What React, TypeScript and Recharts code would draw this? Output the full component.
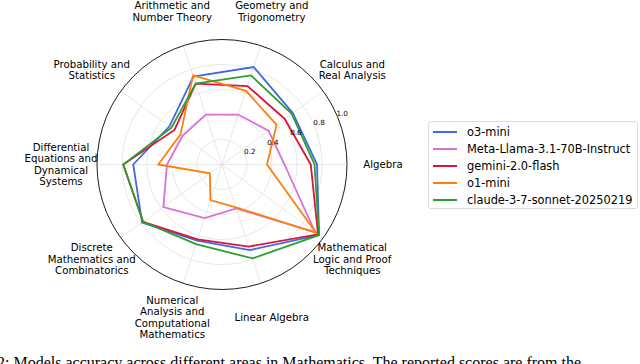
import React from "react";
import { RadarChart, Radar, PolarGrid, PolarAngleAxis, PolarRadiusAxis } from "recharts";

// chart geometry
const CX = 222;
const CY = 164.5;
const R = 125;

const categories = [
  "Algebra",
  "Calculus and Real Analysis",
  "Geometry and Trigonometry",
  "Arithmetic and Number Theory",
  "Probability and Statistics",
  "Differential Equations and Dynamical Systems",
  "Discrete Mathematics and Combinatorics",
  "Numerical Analysis and Computational Mathematics",
  "Linear Algebra",
  "Mathematical Logic and Proof Techniques",
];

// wrapped tick labels, same order as categories
const tickLabels = [
  ["Algebra"],
  ["Calculus and", "Real Analysis"],
  ["Geometry and", "Trigonometry"],
  ["Arithmetic and", "Number Theory"],
  ["Probability and", "Statistics"],
  ["Differential", "Equations and", "Dynamical", "Systems"],
  ["Discrete", "Mathematics and", "Combinatorics"],
  ["Numerical", "Analysis and", "Computational", "Mathematics"],
  ["Linear Algebra"],
  ["Mathematical", "Logic and Proof", "Techniques"],
];

const o3Mini = [0.76, 0.7, 0.82, 0.74, 0.52, 0.71, 0.79, 0.64, 0.72, 0.96];
const llama = [0.5, 0.46, 0.42, 0.42, 0.39, 0.44, 0.58, 0.45, 0.37, 0.92];
const gemini = [0.71, 0.62, 0.66, 0.68, 0.47, 0.79, 0.78, 0.63, 0.69, 0.95];
const o1Mini = [0.36, 0.54, 0.62, 0.75, 0.41, 0.51, 0.12, 0.3, 0.36, 0.93];
const claude = [0.74, 0.69, 0.75, 0.68, 0.5, 0.79, 0.78, 0.67, 0.79, 0.96];

const radiusTicks = [0.2, 0.4, 0.6, 0.8, 1.0];

const series = [
  { name: "o3-mini", values: o3Mini, color: "#4169e1" },
  { name: "Meta-Llama-3.1-70B-Instruct", values: llama, color: "#da70d6" },
  { name: "gemini-2.0-flash", values: gemini, color: "#dc143c" },
  { name: "o1-mini", values: o1Mini, color: "#ff7f0e" },
  { name: "claude-3-7-sonnet-20250219", values: claude, color: "#2ca02c" },
];

const data = categories.map((c, i) => {
  const row: Record<string, any> = { category: c };
  series.forEach((s) => (row[s.name] = s.values[i]));
  return row;
});

const FONT = "'DejaVu Sans', sans-serif";

// labels sit on a ring outside the plot, one per category, counter-clockwise from 3 o'clock
function AngleTick(props: any) {
  const { payload } = props;
  const idx = categories.indexOf(payload.value);
  const lines = tickLabels[idx] || [payload.value];
  const a = (idx * 36 * Math.PI) / 180;
  const lx = CX + 161 * Math.cos(a);
  const ly = CY - 161 * Math.sin(a);
  const lh = 11.4;
  const y0 = ly - ((lines.length - 1) * lh) / 2;
  return (
    <text x={lx} y={y0} textAnchor="middle" fontSize={10.2} fill="#000" fontFamily={FONT}>
      {lines.map((l, i) => (
        <tspan key={i} x={lx} y={y0 + i * lh} dominantBaseline="central">
          {l}
        </tspan>
      ))}
    </text>
  );
}

function RadiusTick(props: any) {
  const { x, y, payload } = props;
  return (
    <text
      x={x + 4.7}
      y={y - 3.3}
      textAnchor="middle"
      dominantBaseline="central"
      fontSize={7.2}
      fill="#000"
      fontFamily={FONT}
    >
      {Number(payload.value).toFixed(1)}
    </text>
  );
}

export default function App() {
  return (
    <div
      style={{
        position: "absolute",
        left: 0,
        top: 0,
        width: 640,
        height: 364,
        overflow: "hidden",
        background: "#fff",
        fontFamily: FONT,
      }}
    >
      <RadarChart
        width={640}
        height={364}
        data={data}
        cx={CX}
        cy={CY}
        outerRadius={R}
        startAngle={-36}
        endAngle={324}
        margin={{ top: 0, right: 0, bottom: 0, left: 0 }}
      >
        <PolarGrid gridType="circle" stroke="#e2e2e2" strokeWidth={0.8} />
        <PolarGrid gridType="circle" polarRadius={[R]} radialLines={false} stroke="#222" strokeWidth={1} />
        <PolarAngleAxis dataKey="category" tick={AngleTick} tickLine={false} axisLine={false} />
        <PolarRadiusAxis
          angle={22.5}
          domain={[0, 1]}
          ticks={radiusTicks as any}
          tick={RadiusTick}
          axisLine={false}
          tickLine={false}
        />
        {series.map((s) => (
          <Radar
            key={s.name}
            name={s.name}
            dataKey={s.name}
            stroke={s.color}
            strokeWidth={1.8}
            fill="none"
            fillOpacity={0}
            dot={false}
            isAnimationActive={false}
          />
        ))}
      </RadarChart>

      <div
        style={{
          position: "absolute",
          left: 428,
          top: 121,
          width: 210,
          height: 88,
          border: "1px solid #dcdcdc",
          borderRadius: 3,
          boxSizing: "border-box",
          paddingTop: 2,
        }}
      >
        {series.map((s) => (
          <div key={s.name} style={{ display: "flex", alignItems: "center", height: 16.9 }}>
            <div style={{ width: 24, height: 2, background: s.color, marginLeft: 4, marginRight: 10 }} />
            <span style={{ fontSize: 11.4, color: "#000", whiteSpace: "nowrap" }}>{s.name}</span>
          </div>
        ))}
      </div>

      <div
        style={{
          position: "absolute",
          left: -3,
          top: 355,
          fontFamily: "'Liberation Serif', serif",
          fontSize: 16,
          lineHeight: "16px",
          whiteSpace: "nowrap",
          color: "#000",
        }}
      >
        2: Models accuracy across different areas in Mathematics. The reported scores are from the
      </div>
    </div>
  );
}
